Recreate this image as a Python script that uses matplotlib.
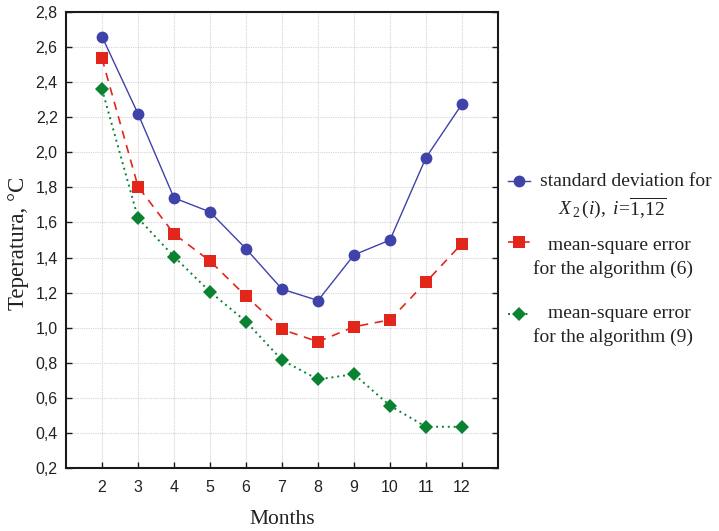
import matplotlib
matplotlib.use("Agg")
import matplotlib.pyplot as plt
from matplotlib.lines import Line2D
from matplotlib.ticker import FuncFormatter, MultipleLocator

months = [2, 3, 4, 5, 6, 7, 8, 9, 10, 11, 12]
std_dev = [2.66, 2.22, 1.74, 1.66, 1.45, 1.22, 1.155, 1.415, 1.50, 1.97, 2.275]
mse_alg6 = [2.535, 1.805, 1.535, 1.38, 1.18, 0.99, 0.92, 1.005, 1.045, 1.26, 1.48]
mse_alg9 = [2.36, 1.625, 1.405, 1.205, 1.035, 0.815, 0.705, 0.735, 0.555, 0.435, 0.435]

plt.rcParams["mathtext.fontset"] = "custom"
plt.rcParams["mathtext.rm"] = "Liberation Serif"
plt.rcParams["mathtext.it"] = "Liberation Serif:italic"

BLUE = "#3f42a8"
RED = "#e2261c"
GREEN = "#0b8231"

fig = plt.figure(figsize=(7.19, 5.31), dpi=100)
W, H = 719, 531
ax = fig.add_axes([66 / W, 1 - 468 / H, (498 - 66) / W, (468 - 12) / H])

ax.plot(months, std_dev, color=BLUE, lw=1.0, ls="-", marker="o", ms=8.5,
        markeredgewidth=0, zorder=4)
ax.plot(months, mse_alg6, color=RED, lw=1.2, ls=(0, (5, 4)), marker="s", ms=8,
        markeredgewidth=0, zorder=4)
ax.plot(months, mse_alg9, color=GREEN, lw=1.4, ls=(0, (1, 2)), marker="D", ms=7,
        markeredgewidth=0, zorder=4)

ax.set_xlim(1, 13)
ax.set_ylim(0.2, 2.8)
ax.set_xticks(months)
ax.yaxis.set_major_locator(MultipleLocator(0.2))
ax.yaxis.set_major_formatter(FuncFormatter(lambda v, p: f"{v:.1f}".replace(".", ",")))

ax.grid(True, color="#d4d4d4", ls=(0, (1, 1)), lw=0.8)
ax.set_axisbelow(True)
for s in ax.spines.values():
    s.set_linewidth(1.5)
    s.set_color("#1a1a1a")

ax.tick_params(axis="both", direction="in", length=4, width=1.0, color="#1a1a1a",
               labelsize=11.5, labelcolor="#222222", right=True, top=False)
ax.tick_params(axis="x", pad=9)
ax.tick_params(axis="y", pad=6)
for lab in ax.get_xticklabels() + ax.get_yticklabels():
    lab.set_family("Liberation Sans")

fig.text(282 / W, 1 - 519 / H, "Months", family="Liberation Serif", fontsize=15.5,
         ha="center", va="center", color="#222222")
fig.text(19 / W, 1 - 243 / H, "Teperatura, °C", family="Liberation Serif", fontsize=16.5,
         ha="center", va="center", rotation=90, color="#222222")

# legend drawn outside the axes on the right
entries = [
    (BLUE, "-", "o", 8.5, 1.0, 181, [(540, 181, "standard deviation for"),
                                    (558, 208, r"$X_{\,2}\,(i),\ i\!=\!\overline{1{,}12}$")]),
    (RED, (0, (3, 2)), "s", 8, 1.2, 242, [(548, 246, "mean-square error"),
                                          (533, 269, "for the algorithm (6)")]),
    (GREEN, (0, (1, 2)), "D", 7, 1.4, 314, [(548, 314, "mean-square error"),
                                            (533, 337, "for the algorithm (9)")]),
]
for color, ls, mk, ms, lw, hy, lines in entries:
    fig.add_artist(Line2D([508 / W, 530 / W], [1 - hy / H, 1 - hy / H], color=color,
                          ls=ls, lw=lw, transform=fig.transFigure))
    fig.add_artist(Line2D([519 / W], [1 - hy / H], color=color, marker=mk, ms=ms,
                          markeredgewidth=0, ls="none", transform=fig.transFigure))
    for x, y, t in lines:
        fig.text(x / W, 1 - y / H, t, family="Liberation Serif", fontsize=14,
                 ha="left", va="center", color="#222222")

fig.savefig("out.png", dpi=100)
